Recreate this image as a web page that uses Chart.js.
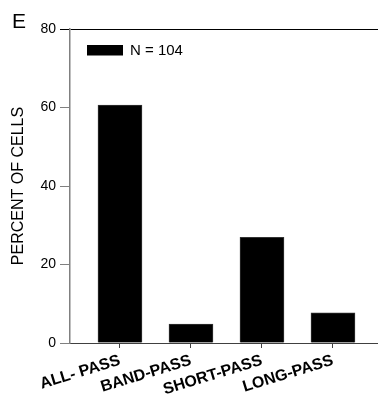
<!DOCTYPE html>
<html>
<head>
<meta charset="utf-8">
<script src="https://cdn.jsdelivr.net/npm/chart.js@4/dist/chart.umd.min.js"></script>
<style>
html,body{margin:0;padding:0;background:#fff;overflow:hidden;}
canvas{display:block;}
</style>
</head>
<body>
<canvas id="c" width="378" height="396"></canvas>
<script>
const categories = ["ALL- PASS", "BAND-PASS", "SHORT-PASS", "LONG-PASS"];
const percentValues = [60.6, 4.8, 26.9, 7.7];
const yTicks = [0, 20, 40, 60, 80];
const seriesLabel = "N = 104";
const panelLetter = "E";
const yTitle = "PERCENT OF CELLS";

const FONT = "'Liberation Sans', Arial, sans-serif";

const overlay = {
  id: 'overlay',
  afterDraw(chart) {
    const ctx = chart.ctx;
    const a = chart.chartArea;
    ctx.save();
    ctx.fillStyle = '#000';
    ctx.font = "21px " + FONT;
    ctx.textAlign = 'left';
    ctx.textBaseline = 'alphabetic';
    ctx.fillText(panelLetter, 12, 28);
    const lx = a.left + 17, ly = a.top + 16;
    ctx.fillRect(lx, ly, 36, 10.5);
    ctx.font = "15px " + FONT;
    ctx.textBaseline = 'middle';
    ctx.fillText(chart.data.datasets[0].label, lx + 43, ly + 5.5);
    ctx.restore();
  }
};

new Chart(document.getElementById('c'), {
  type: 'bar',
  data: {
    datasets: [{
      label: seriesLabel,
      data: categories.map((c, i) => ({x: i, y: percentValues[i]})),
      backgroundColor: '#000',
      borderColor: '#333',
      borderWidth: 1,
      barThickness: 44
    }]
  },
  options: {
    responsive: false,
    animation: false,
    layout: {padding: {top: 29, right: 0, left: 0, bottom: 0}},
    plugins: {legend: {display: false}, tooltip: {enabled: false}},
    scales: {
      x: {
        type: 'linear',
        offset: false,
        min: -0.704,
        max: 3.634,
        afterBuildTicks(scale) { scale.ticks = categories.map((c, i) => ({value: i})); },
        afterFit(scale) { scale.height = 53; },
        ticks: {
          autoSkip: false,
          minRotation: 17,
          maxRotation: 17,
          padding: 3,
          color: '#000',
          font: {family: FONT, size: 16, weight: 'bold'},
          callback: (v) => categories[v]
        },
        grid: {offset: false, drawOnChartArea: false, tickLength: 5, tickColor: '#404040'},
        border: {color: '#404040', width: 1}
      },
      y: {
        min: 0,
        max: 80,
        afterBuildTicks(scale) { scale.ticks = yTicks.map(v => ({value: v})); },
        afterFit(scale) { scale.width = 70; },
        ticks: {
          color: '#000',
          padding: 4,
          font: {family: FONT, size: 14}
        },
        grid: {
          tickLength: 10,
          color: (c) => (c.tick && c.tick.value === 80) ? '#000' : 'rgba(0,0,0,0)',
          tickColor: (c) => (c.tick && c.tick.value === 80) ? '#000' : '#808080'
        },
        border: {color: '#808080', width: 1.5},
        title: {
          display: true,
          text: yTitle,
          color: '#000',
          font: {family: FONT, size: 16},
          padding: {top: 9, bottom: 0}
        }
      }
    }
  },
  plugins: [overlay]
});
</script>
</body>
</html>
